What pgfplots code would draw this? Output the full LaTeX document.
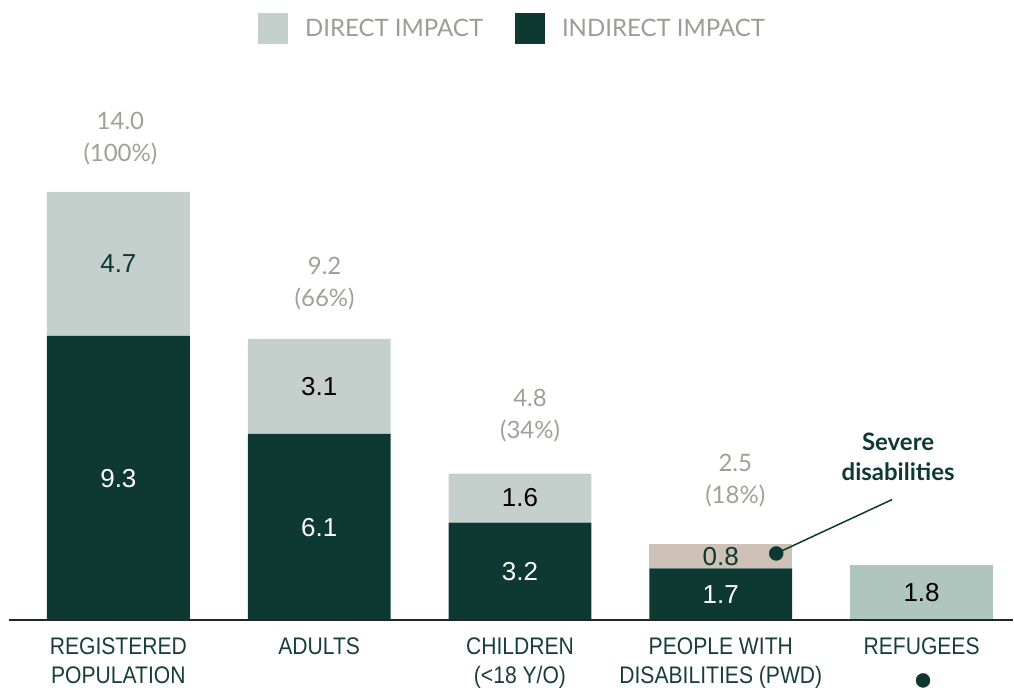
\documentclass[border=0pt]{standalone}
\usepackage{pgfplots}
\pgfplotsset{compat=1.18}
\usepackage{fontspec}
\setmainfont{Lato}
\newfontfamily\valfont{Liberation Sans}
\newfontfamily\catfont[FakeStretch=0.88]{Liberation Sans}
\definecolor{darkg}{HTML}{0E3932}
\definecolor{lightg}{HTML}{C5CFCC}
\definecolor{beige}{HTML}{CDC2B5}
\definecolor{refug}{HTML}{AFC6BE}
\definecolor{totg}{HTML}{A0A09B}
\definecolor{legg}{HTML}{9B9C97}
\definecolor{catg}{HTML}{173F38}
\definecolor{basel}{HTML}{222826}
\pgfplotsset{frame/.style={scale only axis, width=1014pt, height=690pt,
  xmin=-0.58955, xmax=4.45522, ymin=-2.2520, ymax=20.268, clip=false}}
\begin{document}
\begin{tikzpicture}
\begin{axis}[
  frame,
  axis line style={draw=none},
  ytick=\empty,
  xtick={0,1,2,3,4},
  xticklabels={REGISTERED\\POPULATION, ADULTS, CHILDREN\\(<18 Y/O), PEOPLE WITH\\DISABILITIES (PWD), REFUGEES},
  major tick length=0pt,
  xticklabel style={font=\catfont\fontsize{24}{29}\selectfont, text=catg, align=center, anchor=north, inner sep=0pt, yshift=51.5pt},
  ybar stacked, bar width=143pt,
]
\addplot[fill=darkg, draw=none] coordinates {(0,9.3) (1,6.1) (2,3.2) (3,1.7) (4,0)};
\addplot[fill=lightg, draw=none] coordinates {(0,4.7) (1,3.1) (2,1.6) (3,0) (4,0)};
\addplot[fill=beige, draw=none] coordinates {(0,0) (1,0) (2,0) (3,0.8) (4,0)};
\addplot[fill=refug, draw=none] coordinates {(0,0) (1,0) (2,0) (3,0) (4,1.8)};
\end{axis}
\begin{axis}[frame, hide axis,
  legend columns=2,
  legend style={at={(0.506,0.959)}, anchor=center, draw=none, fill=none,
     font=\fontsize{24}{28}\selectfont, text=legg,
     /tikz/every even column/.append style={column sep=30pt},
     legend cell align=left},
  legend image code/.code={\fill[#1] (0pt,-15pt) rectangle (30pt,16pt); \path (45pt,0pt);},
]
\addlegendimage{fill=lightg, draw=none}
\addlegendentry{DIRECT IMPACT}
\addlegendimage{fill=darkg, draw=none}
\addlegendentry{INDIRECT IMPACT}
% baseline
\draw[basel, line width=2pt] (axis cs:-0.545,0) -- (axis cs:4.4552,0);

% values inside bars
\begin{scope}[every node/.style={font=\valfont\fontsize{26}{30}\selectfont, inner sep=0pt, anchor=center}]
\node[text=white] at (axis cs:0,4.63) {9.3};
\node[text=darkg] at (axis cs:0,11.65) {4.7};
\node[text=white] at (axis cs:1,3.05) {6.1};
\node[text=black] at (axis cs:1,7.65) {3.1};
\node[text=white] at (axis cs:2,1.6) {3.2};
\node[text=black] at (axis cs:2,4.0) {1.6};
\node[text=white] at (axis cs:3,0.85) {1.7};
\node[text=darkg] at (axis cs:3,2.1) {0.8};
\node[text=black] at (axis cs:4,0.9) {1.8};
\end{scope}

% totals
\begin{scope}[every node/.style={font=\fontsize{24}{32}\selectfont, text=totg, align=center, inner sep=0pt, anchor=center}]
\node at (axis cs:0.01,15.73) {14.0\\(100\%)};
\node at (axis cs:1.027,11.01) {9.2\\(66\%)};
\node at (axis cs:2.05,6.71) {4.8\\(34\%)};
\node at (axis cs:3.072,4.585) {2.5\\(18\%)};
\end{scope}

% annotation
\draw[darkg, line width=1.5pt] (axis cs:3.276,2.19) -- (axis cs:3.853,3.95);
\addplot[only marks, mark=*, mark size=7pt, mark options={fill=darkg, draw=darkg}, forget plot] coordinates {(3.276,2.19) (4.007,-1.958)};
\node[font=\bfseries\fontsize{24}{30}\selectfont, text=darkg, align=center, inner sep=0pt, anchor=center] at (axis cs:3.883,5.35) {Severe\\disabilities};
\end{axis}
\end{tikzpicture}
\end{document}
